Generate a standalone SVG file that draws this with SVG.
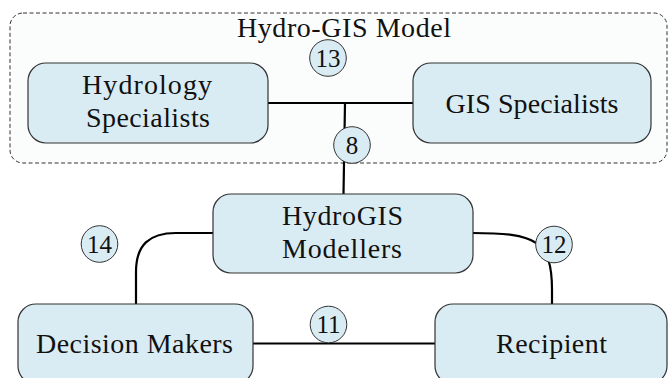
<svg xmlns="http://www.w3.org/2000/svg" width="668" height="378" viewBox="0 0 668 378">
<style>
  .node { fill: #daecf3; stroke: #333; stroke-width: 1.2; }
  .badge { fill: #daecf3; stroke: #333; stroke-width: 1; }
  .conn { fill: none; stroke: #000; stroke-width: 2.2; }
  text { font-family: "Liberation Serif", "Times New Roman", serif; font-size: 28px; fill: #111; text-anchor: middle; }
  .num { font-size: 25px; }
</style>
<g id="container">
  <rect x="10" y="13" width="657" height="150" rx="13" fill="#fbfcfc" stroke="#333" stroke-width="1" stroke-dasharray="4,2.5"/>
  <text x="344" y="37" textLength="214" lengthAdjust="spacing">Hydro-GIS Model</text>
</g>
<g id="connectors">
  <line class="conn" x1="268" y1="103" x2="413" y2="103"/>
  <line class="conn" x1="345" y1="103" x2="343.5" y2="194"/>
  <path class="conn" d="M213,233 L176,233 C149,233 136,245 136,272 L136,304"/>
  <path class="conn" d="M473,233 C535,233 552,240 552,290 L552,304"/>
  <line class="conn" x1="253" y1="343.5" x2="435" y2="343.5"/>
</g>
<g id="node-hydrology">
  <rect class="node" x="28" y="63" width="240" height="80" rx="18"/>
  <text x="147" y="94" textLength="130" lengthAdjust="spacing">Hydrology</text>
  <text x="148" y="127" textLength="124" lengthAdjust="spacing">Specialists</text>
</g>
<g id="node-gis">
  <rect class="node" x="413" y="63" width="238" height="80" rx="18"/>
  <text x="532" y="113" textLength="173" lengthAdjust="spacing">GIS Specialists</text>
</g>
<g id="node-modellers">
  <rect class="node" x="213" y="194" width="260" height="79" rx="18"/>
  <text x="342.5" y="225" textLength="121" lengthAdjust="spacing">HydroGIS</text>
  <text x="342" y="258" textLength="120" lengthAdjust="spacing">Modellers</text>
</g>
<g id="node-decision">
  <rect class="node" x="18" y="304" width="235" height="80" rx="18"/>
  <text x="134.5" y="353" textLength="197" lengthAdjust="spacing">Decision Makers</text>
</g>
<g id="node-recipient">
  <rect class="node" x="435" y="304" width="232" height="80" rx="18"/>
  <text x="551.5" y="353" textLength="111" lengthAdjust="spacing">Recipient</text>
</g>
<g id="badge-13">
  <circle class="badge" cx="328" cy="58" r="18.3"/>
  <text class="num" x="328" y="66.5">13</text>
</g>
<g id="badge-8">
  <circle class="badge" cx="352" cy="145" r="18.3"/>
  <text class="num" x="352" y="153.5">8</text>
</g>
<g id="badge-14">
  <circle class="badge" cx="99.5" cy="244" r="18.3"/>
  <text class="num" x="99.5" y="252.5">14</text>
</g>
<g id="badge-12">
  <circle class="badge" cx="554" cy="244.5" r="18.3"/>
  <text class="num" x="554" y="253">12</text>
</g>
<g id="badge-11">
  <circle class="badge" cx="328.5" cy="324.5" r="18.3"/>
  <text class="num" x="328.5" y="333">11</text>
</g>
</svg>
